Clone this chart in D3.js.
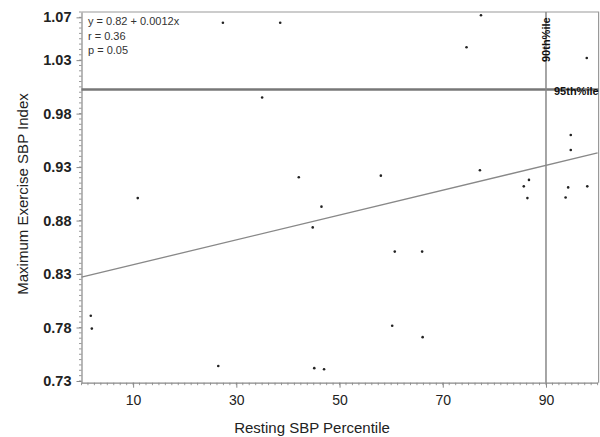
<!DOCTYPE html>
<html>
<head>
<meta charset="utf-8">
<script src="https://cdn.jsdelivr.net/npm/d3@7"></script>
<style>
  body { margin: 0; background: #fff; }
  svg { display: block; font-family: 'Liberation Sans', Arial, sans-serif; }
</style>
</head>
<body>
<div id="chart"></div>
<script>
// resting SBP percentile vs max exercise SBP index
var pctile = [27.4, 38.5, 35.0, 42.1, 10.9, 77.4, 74.6, 97.9, 94.8, 94.8, 77.2, 58.0, 86.7, 85.7,
    94.3, 98.0, 86.4, 93.8, 46.5, 1.8, 2.0, 26.5, 44.8, 60.7, 66.0, 60.2, 66.1, 45.1, 47.0];
var sbpIndex = [1.065, 1.065, 0.995, 0.9205, 0.901, 1.072, 1.042, 1.032, 0.960, 0.946, 0.927, 0.922, 0.918, 0.912,
    0.911, 0.912, 0.901, 0.9016, 0.893, 0.791, 0.779, 0.744, 0.8736, 0.851, 0.851, 0.7817, 0.771, 0.742, 0.741];

var xTicks = [10, 30, 50, 70, 90];
var yTicks = [0.73, 0.78, 0.83, 0.88, 0.93, 0.98, 1.03, 1.07];

// fitted line ends, reference lines
var fitX = [0, 100];
var fitY = [0.8271, 0.9432];
var line90 = 90;
var line95 = 1.0025;

var statsText = ['y = 0.82 + 0.0012x', 'r = 0.36', 'p = 0.05'];

(function() {
    var W = 600, H = 437;
    // note: can't use a global named "top", window.top is read-only
    var pl = 81.5, pr = 597.6, pt = 12, pb = 382.7;

    var svg = d3.select('#chart').append('svg')
        .attr('width', W)
        .attr('height', H);

    var x = d3.scaleLinear().domain([0, 100]).range([pl, pr]);
    var y = d3.scaleLinear().domain([0.7284, 1.075]).range([pb, pt]);

    // frame (top + right)
    svg.append('path')
        .attr('d', 'M' + pl + ',' + pt + 'H' + (pr + 1) + 'V' + pb)
        .attr('fill', 'none')
        .attr('stroke', '#999')
        .attr('stroke-width', 1.2);

    // minor ticks
    var xMinor = d3.range(0, 100.01, 1.25);
    var yMinor = d3.range(0.73, 1.0751, 0.005);

    svg.append('g')
        .selectAll('line')
        .data(xMinor)
        .enter()
        .append('line')
        .attr('x1', function(d) { return x(d); })
        .attr('x2', function(d) { return x(d); })
        .attr('y1', pb)
        .attr('y2', pb + 2.5)
        .attr('stroke', '#999');

    svg.append('g')
        .selectAll('line')
        .data(yMinor)
        .enter()
        .append('line')
        .attr('x1', pl)
        .attr('x2', pl - 2.5)
        .attr('y1', function(d) { return y(d); })
        .attr('y2', function(d) { return y(d); })
        .attr('stroke', '#999');

    // axes
    var xAxis = d3.axisBottom(x)
        .tickValues(xTicks)
        .tickSize(5)
        .tickPadding(7)
        .tickSizeOuter(0);

    var yAxis = d3.axisLeft(y)
        .tickValues(yTicks)
        .tickSize(5)
        .tickPadding(5)
        .tickFormat(d3.format('.2f'))
        .tickSizeOuter(0);

    var gx = svg.append('g')
        .attr('transform', 'translate(0,' + pb + ')')
        .call(xAxis);
    var gy = svg.append('g')
        .attr('transform', 'translate(' + pl + ',0)')
        .call(yAxis);

    [gx, gy].forEach(function(g) {
        g.select('.domain').attr('stroke', '#888').attr('stroke-width', 1.2);
        g.selectAll('.tick line').attr('stroke', '#888');
    });
    gx.selectAll('.tick text')
        .attr('font-size', 14)
        .attr('fill', '#222')
        .attr('font-family', 'Liberation Sans, Arial, sans-serif');
    gy.selectAll('.tick text')
        .attr('font-size', 14.5)
        .attr('font-weight', 'bold')
        .attr('fill', '#222')
        .attr('font-family', 'Liberation Sans, Arial, sans-serif');

    // reference lines
    svg.append('line')
        .attr('x1', pl).attr('x2', pr + 1)
        .attr('y1', y(line95)).attr('y2', y(line95))
        .attr('stroke', '#777')
        .attr('stroke-width', 2.5);

    svg.append('line')
        .attr('x1', x(line90)).attr('x2', x(line90))
        .attr('y1', pt).attr('y2', pb)
        .attr('stroke', '#888')
        .attr('stroke-width', 1.5);

    // fitted line
    svg.append('line')
        .attr('x1', x(fitX[0])).attr('y1', y(fitY[0]))
        .attr('x2', x(fitX[1])).attr('y2', y(fitY[1]))
        .attr('stroke', '#888')
        .attr('stroke-width', 1.3);

    // points
    svg.append('g')
        .selectAll('circle')
        .data(pctile)
        .enter()
        .append('circle')
        .attr('cx', function(d) { return x(d); })
        .attr('cy', function(d, i) { return y(sbpIndex[i]); })
        .attr('r', 1.3)
        .attr('fill', '#222');

    // labels on reference lines
    svg.append('text')
        .attr('transform', 'translate(' + (x(line90) + 4.5) + ',62) rotate(-90)')
        .attr('font-size', 11)
        .attr('font-weight', 'bold')
        .attr('fill', '#111')
        .text('90th%ile');

    svg.append('text')
        .attr('x', 554)
        .attr('y', y(line95) + 5)
        .attr('font-size', 11)
        .attr('font-weight', 'bold')
        .attr('fill', '#111')
        .text('95th%ile');

    // stats box text
    svg.append('g')
        .selectAll('text')
        .data(statsText)
        .enter()
        .append('text')
        .attr('x', 88)
        .attr('y', function(d, i) { return 25 + i * 14.5; })
        .attr('font-size', 11)
        .attr('fill', '#333')
        .text(function(d) { return d; });

    // axis titles
    svg.append('text')
        .attr('x', 312)
        .attr('y', 433)
        .attr('text-anchor', 'middle')
        .attr('font-size', 15)
        .attr('fill', '#222')
        .text('Resting SBP Percentile');

    svg.append('text')
        .attr('transform', 'translate(28,194) rotate(-90)')
        .attr('text-anchor', 'middle')
        .attr('font-size', 15)
        .attr('fill', '#222')
        .text('Maximum Exercise SBP Index');
})();
</script>
</body>
</html>
